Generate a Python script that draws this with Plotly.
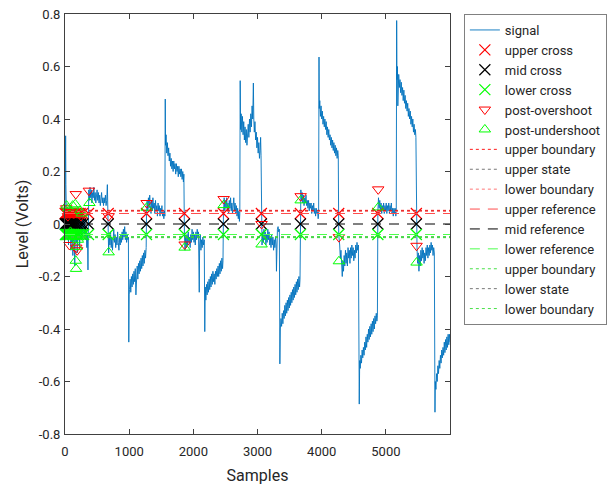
import plotly.graph_objects as go

# ---------------- signal (sample index, level in volts) ----------------
burst_start = [(0,0.05),(5,0.12),(10,0.336),(14,0.15),(18,0.06),(25,-0.02),(32,0.04),(40,-0.06),(48,0.03),
               (55,-0.08),(62,0.05),(70,-0.05),(78,0.07),(85,-0.03),(92,-0.10),(100,0.02),(108,-0.07),
               (115,0.06),(122,-0.12),(130,-0.04),(138,0.04),(145,-0.09),(152,-0.16),(160,-0.05),(168,0.05),
               (175,-0.07),(182,0.03),(190,-0.11),(198,-0.03),(205,0.06),(212,-0.06),(220,0.02),(228,-0.09),
               (235,-0.02),(242,0.05),(250,-0.04),(258,0.03),(265,-0.06),(272,0.04),(280,-0.03),(290,0.02),
               (300,-0.05),(310,0.01),(320,-0.06),(330,-0.02),(340,-0.09),(350,-0.04),(358,-0.175),(362,-0.05)]
step_a = [(366,0.05),(370,0.13),(380,0.09),(390,0.14),(400,0.10),(410,0.13),(420,0.08),(430,0.12),(440,0.10),
          (450,0.14),(460,0.09),(470,0.12),(480,0.08),(490,0.11),(500,0.13),(510,0.09),(520,0.12),(530,0.08),
          (540,0.11),(550,0.07),(560,0.10),(570,0.12),(580,0.08),(590,0.10),(600,0.07),(610,0.10),(620,0.08),
          (630,0.11),(640,0.07),(650,0.09),(660,0.15),(665,0.08)]
step_b = [(673,0.0),(680,-0.11),(690,-0.04),(700,-0.08),(710,-0.03),(720,-0.09),(730,-0.05),(740,-0.10),
          (750,-0.06),(760,-0.02),(770,-0.07),(780,-0.04),(790,-0.09),(800,-0.05),(810,-0.08),(820,-0.03),
          (830,-0.07),(840,-0.10),(850,-0.05),(860,-0.08),(870,-0.04),(880,-0.07),(890,-0.03),(900,-0.06),
          (910,-0.02),(920,-0.05),(930,-0.01),(940,-0.06),(950,-0.03),(960,-0.07),(970,-0.04),(980,-0.06),
          (988,-0.05)]
step_c = [(994,-0.45),(1000,-0.27),(1005,-0.25),(1015,-0.21),(1025,-0.26),(1035,-0.20),(1045,-0.24),
          (1055,-0.19),(1065,-0.23),(1075,-0.18),(1085,-0.22),(1095,-0.17),(1105,-0.27),(1115,-0.20),
          (1125,-0.16),(1135,-0.21),(1145,-0.15),(1155,-0.19),(1165,-0.14),(1175,-0.18),(1185,-0.13),
          (1195,-0.17),(1205,-0.12),(1215,-0.16),(1225,-0.11),(1235,-0.15),(1245,-0.10),(1255,-0.13),
          (1265,-0.09)]
step_d = [(1270,0.04),(1280,0.09),(1290,0.05),(1300,0.10),(1310,0.06),(1320,0.11),(1330,0.07),(1340,0.04),
          (1350,0.09),(1360,0.05),(1370,0.10),(1380,0.06),(1390,0.08),(1400,0.04),(1410,0.09),(1420,0.05),
          (1430,0.07),(1440,0.03),(1450,0.08),(1460,0.05),(1470,0.07),(1480,0.03),(1490,0.06),(1500,0.04),
          (1510,0.07),(1520,0.03),(1530,0.05),(1540,0.02),(1550,0.05),(1556,0.03)]
step_e = [(1562,0.476),(1566,0.30),(1575,0.34),(1585,0.27),(1595,0.31),(1605,0.26),(1615,0.29),(1625,0.24),
          (1635,0.27),(1645,0.22),(1655,0.25),(1665,0.21),(1675,0.24),(1685,0.20),(1695,0.24),(1705,0.21),
          (1715,0.23),(1725,0.19),(1735,0.23),(1745,0.20),(1755,0.22),(1765,0.18),(1775,0.22),(1785,0.19),
          (1795,0.21),(1805,0.18),(1815,0.21),(1825,0.17),(1835,0.20),(1845,0.16),(1852,0.19)]
step_f = [(1861,-0.04),(1870,-0.10),(1880,-0.05),(1890,-0.09),(1900,-0.04),(1910,-0.08),(1920,-0.03),
          (1930,-0.07),(1940,-0.05),(1950,-0.09),(1960,-0.04),(1970,-0.07),(1980,-0.02),(1990,-0.06),
          (2000,-0.03),(2010,-0.07),(2020,-0.04),(2030,-0.08),(2040,-0.03),(2050,-0.06),(2060,-0.02),
          (2070,-0.05),(2080,-0.03),(2092,-0.26),(2098,-0.08),(2108,-0.04),(2118,-0.10),(2128,-0.06),
          (2138,-0.09),(2148,-0.05),(2160,-0.08),(2170,-0.06)]
step_g = [(2178,-0.41),(2185,-0.24),(2195,-0.29),(2205,-0.23),(2215,-0.27),(2225,-0.22),(2235,-0.26),
          (2245,-0.21),(2255,-0.25),(2265,-0.20),(2275,-0.24),(2285,-0.19),(2295,-0.23),(2305,-0.18),
          (2315,-0.22),(2325,-0.19),(2335,-0.23),(2345,-0.18),(2355,-0.21),(2365,-0.17),(2375,-0.20),
          (2385,-0.16),(2395,-0.20),(2405,-0.15),(2415,-0.19),(2425,-0.14),(2435,-0.18),(2445,-0.13),
          (2455,-0.17),(2462,-0.14)]
step_h = [(2469,0.04),(2480,0.10),(2490,0.05),(2500,0.09),(2510,0.06),(2520,0.10),(2530,0.05),(2540,0.08),
          (2550,0.04),(2560,0.09),(2570,0.06),(2580,0.10),(2590,0.05),(2600,0.08),(2610,0.04),(2620,0.07),
          (2630,0.10),(2640,0.05),(2650,0.08),(2660,0.04),(2670,0.07),(2680,0.03),(2690,0.06),(2700,0.02),
          (2710,0.05),(2718,0.01),(2724,0.04)]
step_i = [(2730,0.546),(2736,0.36),(2745,0.42),(2755,0.35),(2765,0.41),(2775,0.34),(2785,0.39),(2795,0.32),
          (2805,0.37),(2815,0.31),(2825,0.36),(2835,0.30),(2845,0.35),(2855,0.38),(2865,0.33),(2875,0.40),
          (2885,0.35),(2895,0.42),(2905,0.37),(2915,0.45),(2925,0.40),(2935,0.537),(2942,0.40),(2950,0.35),
          (2960,0.39),(2970,0.32),(2980,0.35),(2990,0.29),(3000,0.33),(3010,0.27),(3020,0.31),(3030,0.25),
          (3040,0.28),(3048,0.33),(3055,0.26)]
step_j = [(3060,-0.04),(3070,-0.08),(3080,-0.03),(3090,-0.07),(3100,-0.02),(3110,-0.06),(3120,-0.03),
          (3130,-0.08),(3140,-0.04),(3150,-0.07),(3160,-0.02),(3170,-0.06),(3180,-0.03),(3190,-0.08),
          (3200,-0.05),(3210,-0.09),(3220,-0.04),(3230,-0.08),(3240,-0.05),(3250,-0.10),(3260,-0.06),
          (3270,-0.09),(3280,-0.05),(3290,-0.08),(3295,-0.18),(3300,-0.07),(3310,-0.02),(3320,-0.01),
          (3330,-0.03),(3340,-0.02)]
step_k = [(3348,-0.533),(3355,-0.40),(3365,-0.36),(3375,-0.39),(3385,-0.34),(3395,-0.38),(3405,-0.33),
          (3415,-0.36),(3425,-0.31),(3435,-0.35),(3445,-0.30),(3455,-0.34),(3465,-0.29),(3475,-0.33),
          (3485,-0.28),(3495,-0.32),(3505,-0.27),(3515,-0.31),(3525,-0.26),(3535,-0.30),(3545,-0.25),
          (3555,-0.29),(3565,-0.24),(3575,-0.28),(3585,-0.23),(3595,-0.27),(3605,-0.22),(3615,-0.26),
          (3625,-0.21),(3635,-0.25),(3645,-0.20),(3655,-0.24),(3662,-0.21)]
step_l = [(3668,0.05),(3675,0.13),(3685,0.09),(3695,0.12),(3705,0.08),(3715,0.11),(3725,0.07),(3735,0.10),
          (3745,0.08),(3755,0.11),(3765,0.07),(3775,0.09),(3785,0.06),(3795,0.09),(3805,0.05),(3815,0.08),
          (3825,0.06),(3835,0.08),(3845,0.04),(3855,0.07),(3865,0.05),(3875,0.08),(3885,0.04),(3895,0.06),
          (3905,0.03),(3915,0.06),(3925,0.04),(3935,0.05),(3945,0.02),(3952,0.04)]
step_m = [(3958,0.636),(3962,0.44),(3970,0.47),(3980,0.41),(3990,0.45),(4000,0.40),(4010,0.43),(4020,0.38),
          (4030,0.41),(4040,0.37),(4050,0.40),(4060,0.36),(4070,0.39),(4080,0.34),(4090,0.37),(4100,0.33),
          (4110,0.36),(4120,0.32),(4130,0.34),(4140,0.30),(4150,0.33),(4160,0.29),(4170,0.32),(4180,0.28),
          (4190,0.31),(4200,0.27),(4210,0.30),(4220,0.26),(4230,0.29),(4240,0.25),(4250,0.28),(4258,0.26)]
step_n = [(4265,-0.04),(4280,-0.08),(4290,-0.13),(4300,-0.10),(4310,-0.16),(4320,-0.20),(4330,-0.14),
          (4340,-0.18),(4350,-0.12),(4360,-0.16),(4370,-0.10),(4380,-0.15),(4390,-0.11),(4400,-0.16),
          (4410,-0.09),(4420,-0.13),(4430,-0.10),(4440,-0.15),(4450,-0.09),(4460,-0.13),(4470,-0.08),
          (4480,-0.12),(4490,-0.09),(4500,-0.14),(4510,-0.10),(4520,-0.13),(4530,-0.08),(4540,-0.11),
          (4550,-0.07),(4560,-0.10),(4572,-0.08)]
step_o = [(4585,-0.686),(4592,-0.52),(4600,-0.55),(4610,-0.50),(4620,-0.53),(4630,-0.48),(4640,-0.51),
          (4650,-0.47),(4660,-0.50),(4670,-0.45),(4680,-0.48),(4690,-0.43),(4700,-0.47),(4710,-0.42),
          (4720,-0.45),(4730,-0.40),(4740,-0.44),(4750,-0.39),(4760,-0.43),(4770,-0.38),(4780,-0.42),
          (4790,-0.37),(4800,-0.41),(4810,-0.36),(4820,-0.40),(4830,-0.35),(4840,-0.38),(4850,-0.34),
          (4860,-0.37),(4868,-0.35)]
step_p = [(4875,0.05),(4885,0.10),(4895,0.06),(4905,0.09),(4915,0.05),(4925,0.08),(4935,0.04),(4945,0.07),
          (4955,0.05),(4965,0.08),(4975,0.04),(4985,0.07),(4995,0.05),(5005,0.08),(5015,0.04),(5025,0.07),
          (5035,0.05),(5045,0.08),(5055,0.04),(5065,0.07),(5075,0.05),(5085,0.08),(5095,0.04),(5105,0.06),
          (5115,0.03),(5125,0.06),(5135,0.04),(5145,0.06),(5155,0.03),(5162,0.05)]
step_q = [(5168,0.775),(5172,0.55),(5180,0.60),(5186,0.45),(5192,0.56),(5200,0.57),(5210,0.52),(5220,0.55),
          (5230,0.50),(5240,0.54),(5250,0.49),(5260,0.52),(5270,0.47),(5280,0.51),(5290,0.46),(5300,0.49),
          (5310,0.44),(5320,0.47),(5330,0.43),(5340,0.46),(5350,0.41),(5360,0.44),(5370,0.40),(5380,0.43),
          (5390,0.38),(5400,0.41),(5410,0.37),(5420,0.40),(5430,0.35),(5440,0.38),(5450,0.34),(5460,0.36),
          (5468,0.33)]
step_r = [(5475,-0.04),(5485,-0.09),(5495,-0.15),(5505,-0.11),(5515,-0.18),(5525,-0.12),(5535,-0.16),
          (5545,-0.10),(5555,-0.14),(5565,-0.09),(5575,-0.13),(5585,-0.10),(5595,-0.15),(5605,-0.11),
          (5615,-0.14),(5625,-0.09),(5635,-0.12),(5645,-0.08),(5655,-0.13),(5665,-0.09),(5675,-0.12),
          (5685,-0.08),(5695,-0.11),(5705,-0.07),(5715,-0.10),(5725,-0.08),(5735,-0.12),(5745,-0.09),
          (5755,-0.11)]
step_s = [(5765,-0.717),(5770,-0.60),(5780,-0.63),(5790,-0.57),(5800,-0.60),(5810,-0.54),(5820,-0.57),
          (5830,-0.52),(5840,-0.55),(5850,-0.50),(5860,-0.53),(5870,-0.48),(5880,-0.51),(5890,-0.47),
          (5900,-0.50),(5910,-0.45),(5920,-0.49),(5930,-0.44),(5940,-0.48),(5950,-0.43),(5960,-0.47),
          (5970,-0.42),(5980,-0.46),(5990,-0.42),(5999,-0.45)]

signal_pieces = [burst_start, step_a, step_b, step_c, step_d, step_e, step_f, step_g, step_h, step_i,
                 step_j, step_k, step_l, step_m, step_n, step_o, step_p, step_q, step_r, step_s]

# ---------------- state levels and reference levels ----------------
upper_state = 0.05
lower_state = -0.05
tolerance = 0.002
upper_ref = 0.04
mid_ref = 0.0
lower_ref = -0.04
x_limits = [0, 5999]

# ---------------- crossing instants (sample index) ----------------
upper_cross_x = [2, 12, 24, 38, 56, 76, 98, 118, 140, 166, 196, 236, 274,
                 366, 673, 1270, 1861, 2469, 3060, 3668, 4265, 4875, 5475]
mid_cross_x = [4, 16, 30, 44, 62, 84, 104, 126, 150, 176, 206, 246, 280,
               366, 673, 1270, 1861, 2469, 3060, 3668, 4265, 4875, 5475]
lower_cross_x = [6, 20, 34, 50, 68, 90, 112, 134, 158, 186, 216, 256, 290,
                 366, 673, 1270, 1861, 2469, 3060, 3668, 4265, 4875, 5475]

# ---------------- post-transition overshoot / undershoot points ----------------
overshoot_x = [20, 45, 70, 100, 130, 168, 176, 190, 220, 250,
               372, 680, 1272, 1864, 2472, 3063, 3672, 4268, 4880, 5478]
overshoot_y = [0.06, 0.03, -0.08, 0.05, 0.04, 0.114, -0.09, -0.10, 0.04, 0.03,
               0.127, 0.03, 0.08, -0.078, 0.095, 0.0, 0.106, -0.05, 0.132, -0.083]
undershoot_x = [25, 50, 85, 120, 160, 168, 172, 180, 200, 235, 260,
                380, 680, 1272, 1864, 2472, 3063, 3672, 4268, 4880, 5478]
undershoot_y = [0.07, 0.06, -0.03, 0.07, 0.075, -0.14, -0.171, -0.087, -0.06, 0.05, 0.04,
                0.08, -0.108, 0.062, -0.09, 0.072, -0.078, 0.09, -0.142, 0.063, -0.147]

sig_x = [p[0] for piece in signal_pieces for p in piece]
sig_y = [p[1] for piece in signal_pieces for p in piece]

RED, BLACK, GREEN, GRAY = "#ff0000", "#000000", "#00ff00", "#555555"
fig = go.Figure()
fig.add_trace(go.Scatter(x=sig_x, y=sig_y, mode="lines", name="signal", legendrank=1,
                         line=dict(color="#0072BD", width=0.9)))

def cross_trace(xs, level, color, name, rank):
    return go.Scatter(x=xs, y=[level] * len(xs), mode="markers", name=name, cliponaxis=False,
                      legendrank=rank,
                      marker=dict(symbol="x-thin-open", size=11, color=color,
                                  line=dict(color=color, width=1.2)))

fig.add_trace(cross_trace(upper_cross_x, upper_ref, RED, "upper cross", 2))
fig.add_trace(cross_trace(mid_cross_x, mid_ref, BLACK, "mid cross", 3))
fig.add_trace(cross_trace(lower_cross_x, lower_ref, GREEN, "lower cross", 4))
fig.add_trace(go.Scatter(x=overshoot_x, y=overshoot_y, mode="markers", name="post-overshoot",
                         cliponaxis=False, legendrank=5,
                         marker=dict(symbol="triangle-down-open", size=10, color=RED,
                                     line=dict(color=RED, width=1))))
fig.add_trace(go.Scatter(x=undershoot_x, y=undershoot_y, mode="markers", name="post-undershoot",
                         cliponaxis=False, legendrank=6,
                         marker=dict(symbol="triangle-up-open", size=10, color=GREEN,
                                     line=dict(color=GREEN, width=1))))

# (legend rank, name, level, colour, dash, width) -- state lines drawn first, boundaries on top
level_lines = [
    (8, "upper state", upper_state, GRAY, "dot", 0.8),
    (14, "lower state", lower_state, GRAY, "dot", 0.8),
    (7, "upper boundary", upper_state + tolerance, RED, "dot", 0.9),
    (9, "lower boundary", upper_state - tolerance, "#ff6666", "dot", 0.9),
    (10, "upper reference", upper_ref, "#ff4d4d", "10px,8px", 1),
    (11, "mid reference", mid_ref, BLACK, "10px,8px", 1),
    (12, "lower reference", lower_ref, "#4dff4d", "10px,8px", 1),
    (13, "upper boundary", lower_state + tolerance, "#33dd33", "dot", 0.9),
    (15, "lower boundary", lower_state - tolerance, "#33dd33", "dot", 0.9),
]
for rank, name, lvl, col, dash, w in level_lines:
    fig.add_trace(go.Scatter(x=x_limits, y=[lvl, lvl], mode="lines", name=name, legendrank=rank,
                             line=dict(color=col, width=w, dash=dash)))

axis_common = dict(showline=True, linecolor="#404040", linewidth=1, mirror="ticks",
                   ticks="inside", ticklen=5, tickcolor="#404040", showgrid=False, zeroline=False,
                   tickfont=dict(family="Roboto", size=13, color="#262626"))
fig.update_xaxes(range=x_limits, tickvals=[0, 1000, 2000, 3000, 4000, 5000],
                 ticktext=["0", "1000", "2000", "3000", "4000", "5000"], ticklabelstandoff=5,
                 title=dict(text="Samples", font=dict(family="Roboto", size=16, color="#262626"),
                            standoff=12), **axis_common)
yt = [-0.8, -0.6, -0.4, -0.2, 0, 0.2, 0.4, 0.6, 0.8]
fig.update_yaxes(range=[-0.8, 0.8], tickvals=yt,
                 ticktext=["-0.8", "-0.6", "-0.4", "-0.2", "0", "0.2", "0.4", "0.6", "0.8"],
                 ticklabelstandoff=1,
                 title=dict(text="Level (Volts)", font=dict(family="Roboto", size=16, color="#262626"),
                            standoff=6), **axis_common)
fig.update_layout(
    width=612, height=486, paper_bgcolor="white", plot_bgcolor="white",
    margin=dict(l=65, r=162, t=14, b=52, autoexpand=False),
    showlegend=True,
    legend=dict(x=1.036, y=1.0, xanchor="left", yanchor="top", bgcolor="white",
                bordercolor="#808080", borderwidth=1, tracegroupgap=0, traceorder="normal",
                font=dict(family="Roboto", size=13, color="#262626")),
)
fig.write_html("out.html")
